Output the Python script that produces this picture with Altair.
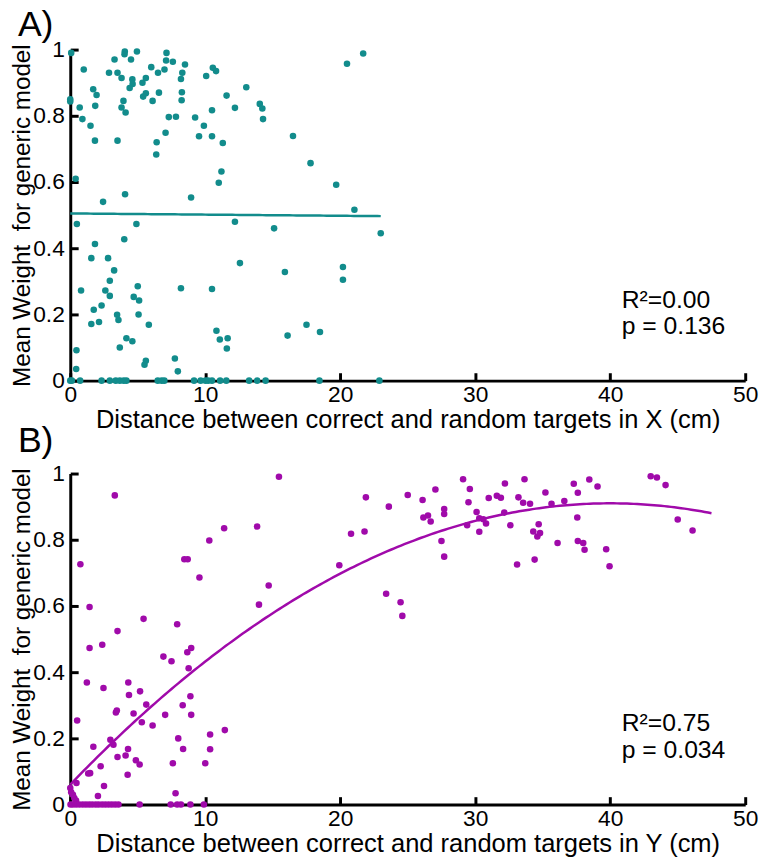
import altair as alt
import pandas as pd

FONT = "Liberation Sans"
COL_A = "#128c8c"
COL_B = "#a00aaa"

# ---------------- Panel A data ----------------
a_x = [0.07, 0.0, 0.0, 0.4, 1.0, 0.7, 0.9, 1.5, 1.7, 1.95, 1.85, 1.83, 2.43, 2.87, 3.28, 3.5,
       3.8, 3.94, 3.8, 4.1, 3.5, 4.06, 4.04, 4.02, 4.5, 4.6, 4.62, 4.4, 4.94, 5.35, 5.6, 5.4,
       5.6, 6.0, 6.1, 6.57, 6.5, 6.98, 7.13, 7.1, 7.6, 7.3, 7.83, 7.06, 6.4, 6.37, 8.5, 8.3,
       8.2, 8.27, 8.25, 8.95, 9.25, 9.54, 9.9, 10.07, 10.5, 10.5, 10.56, 10.8, 11.3, 11.2,
       11.0, 11.58, 12.2, 13.04, 14.04, 14.23, 14.28, 16.5, 17.8, 19.7, 20.5, 21.7, 21.05,
       0.49, 4.9, 12.2, 15.1, 23.0, 1.83, 4.0, 1.56, 2.8, 3.25, 2.93, 12.57, 15.9, 20.2, 20.2,
       0.8, 2.6, 2.93, 5.0, 4.7, 5.1, 5.06, 8.2, 10.5, 1.74, 2.32, 2.13, 1.56, 3.47, 3.57,
       5.82, 4.16, 4.6, 3.67, 0.46, 10.83, 11.08, 11.66, 11.6, 16.1, 17.5, 18.5, 5.6, 5.5,
       7.75, 7.97, 0.44,
       0.0, 0.12, 0.73, 2.32, 2.93, 3.37, 3.67, 3.96, 4.16, 6.48, 6.77, 6.97, 9.17, 9.66,
       10.02, 10.22, 10.5, 11.1, 11.56, 13.25, 13.84, 14.47, 18.46, 22.9]
a_y = [0.99, 0.85, 0.843, 0.61, 0.94, 0.825, 0.79, 0.77, 0.88, 0.863, 0.83, 0.725, 0.54, 0.93,
       0.97, 0.93, 0.914, 0.845, 0.825, 0.81, 0.725, 0.563, 0.994, 0.986, 0.97, 0.91, 0.896,
       0.884, 0.994, 0.9, 0.914, 0.858, 0.868, 0.947, 0.845, 0.87, 0.93, 0.94, 0.99, 0.967,
       0.963, 0.796, 0.797, 0.749, 0.72, 0.683, 0.955, 0.93, 0.911, 0.871, 0.847, 0.553,
       0.795, 0.738, 0.77, 0.92, 0.817, 0.738, 0.945, 0.935, 0.718, 0.632, 0.598, 0.861,
       0.824, 0.886, 0.836, 0.822, 0.79, 0.739, 0.657, 0.592, 0.957, 0.988, 0.516,
       0.473, 0.473, 0.48, 0.46, 0.445, 0.413, 0.427, 0.37, 0.37, 0.333, 0.302, 0.355, 0.328,
       0.343, 0.305, 0.272, 0.272, 0.256, 0.285, 0.253, 0.242, 0.2, 0.279, 0.277, 0.214,
       0.227, 0.177, 0.171, 0.199, 0.183, 0.169, 0.128, 0.119, 0.1, 0.092, 0.151, 0.124,
       0.128, 0.097, 0.136, 0.169, 0.147, 0.06, 0.048, 0.067, 0.028, 0.035,
       0, 0, 0, 0, 0, 0, 0, 0, 0, 0, 0, 0, 0, 0, 0, 0, 0, 0, 0, 0, 0, 0, 0, 0]

# ---------------- Panel B data ----------------
b_x = [0.75, 1.43, 1.43, 2.37, 3.5, 3.3, 5.43, 7.92, 8.45, 8.7, 9.57, 10.3, 11.4, 8.67, 8.96,
       6.9, 7.5, 13.84, 13.98, 14.7, 15.46, 19.93, 20.8, 21.8, 21.9, 23.4, 23.6,
       8.77, 1.23, 2.46, 4.3, 4.35, 5.17, 5.63, 3.38, 3.45, 4.69, 5.3, 6.1, 7.03, 8.33, 8.9,
       8.96, 0.51, 2.97, 3.2, 1.71, 3.5, 4.28, 4.1, 4.86, 5.14, 2.25, 1.47, 1.33, 4.25, 8.0,
       8.36, 10.36, 10.36, 11.45, 7.6, 10.0, 0.46, 2.5, 2.05, 7.8,
       0.0, 0.07, 0.2, 0.3, 0.43,
       0.02, 0.2, 0.43, 0.67, 0.92, 1.16, 1.4, 1.63, 1.88, 2.1, 2.36, 2.6, 2.84, 3.08, 3.33,
       3.57, 5.14, 7.44, 7.92, 8.2, 8.9, 9.9,
       25.0, 26.1, 26.16, 26.5, 26.7, 27.05, 27.7, 27.7, 27.5, 27.7, 29.1, 29.6, 29.5, 29.4,
       30.1, 30.3, 30.6, 30.8, 30.3, 31.0, 31.6, 31.9, 32.2, 32.15, 32.6, 33.1, 33.2, 33.55,
       34.06, 33.65, 34.3, 34.6, 34.8, 34.7, 34.4, 35.2, 35.65, 36.1, 36.6, 37.3, 37.6, 37.56,
       37.6, 38.0, 38.1, 38.45, 39.06, 39.7, 39.95, 43.0, 43.46, 44.1, 45.0, 46.1, 24.47, 24.6]
b_y = [0.726, 0.597, 0.473, 0.483, 0.524, 0.934, 0.561, 0.545, 0.741, 0.741, 0.686, 0.798,
       0.835, 0.46, 0.473, 0.447, 0.433, 0.84, 0.604, 0.662, 0.99, 0.723, 0.818, 0.825, 0.928,
       0.637, 0.9,
       0.412, 0.369, 0.352, 0.369, 0.331, 0.342, 0.302, 0.278, 0.284, 0.275, 0.249, 0.239,
       0.271, 0.3, 0.327, 0.271, 0.254, 0.196, 0.181, 0.175, 0.144, 0.168, 0.148, 0.134, 0.121,
       0.116, 0.095, 0.094, 0.09, 0.2, 0.168, 0.212, 0.167, 0.225, 0.125, 0.125, 0.065, 0.056,
       0.026, 0.034,
       0.05, 0.037, 0.03, 0.02, 0.012,
       0, 0, 0, 0, 0, 0, 0, 0, 0, 0, 0, 0, 0, 0, 0, 0, 0, 0, 0, 0, 0, 0,
       0.935, 0.92, 0.867, 0.873, 0.855, 0.952, 0.893, 0.878, 0.796, 0.749, 0.983, 0.953,
       0.913, 0.844, 0.884, 0.865, 0.862, 0.849, 0.824, 0.926, 0.933, 0.927, 0.97, 0.882,
       0.844, 0.725, 0.928, 0.912, 0.909, 0.983, 0.825, 0.81, 0.82, 0.847, 0.74, 0.943, 0.909,
       0.79, 0.917, 0.969, 0.942, 0.867, 0.796, 0.79, 0.77, 0.982, 0.961, 0.771, 0.72, 0.992,
       0.988, 0.965, 0.861, 0.828, 0.611, 0.57]

# Fitted model coefficients of the figure's fit lines (c0 + c1*x + c2*x^2)
fit_a = [0.505, -0.00035, 0.0]
fit_b = [0.0604, 0.04248, -0.000531]
fit_range_a = [0, 23.0]
fit_range_b = [0, 47.6]

x_ticks = [0, 10, 20, 30, 40, 50]
y_ticks = [0, 0.2, 0.4, 0.6, 0.8, 1]

y_title = "Mean Weight\u00a0 for generic model"
x_title_a = "Distance between correct and random targets in X (cm)"
x_title_b = "Distance between correct and random targets in Y (cm)"
annot_a = "R²=0.00\np = 0.136"
annot_b = "R²=0.75\np = 0.034"

df_a = pd.DataFrame({"x": a_x, "y": a_y})
df_b = pd.DataFrame({"x": b_x, "y": b_y})


def panel(df, color, label, label_dy, x_title, annot, fit, rng):
    base = alt.Chart(df)
    xenc = alt.X("x:Q", scale=alt.Scale(domain=[0, 50], nice=False),
                 axis=alt.Axis(values=x_ticks, title=x_title, labelPadding=11,
                               titlePadding=1, titleFontSize=25.8))
    yenc = alt.Y("y:Q", scale=alt.Scale(domain=[0, 1], nice=False),
                 axis=alt.Axis(values=y_ticks, format="~g", title=y_title,
                               labelPadding=14, titlePadding=-2, titleFontSize=24.5))
    pts = base.mark_circle(size=44, color=color, opacity=1).encode(x=xenc, y=yenc)
    line = alt.Chart(alt.sequence(rng[0], rng[1] + 0.01, 0.25, as_="x")).transform_calculate(
        y=f"{fit[0]} + {fit[1]} * datum.x + {fit[2]} * datum.x * datum.x"
    ).mark_line(color=color, strokeWidth=2.5).encode(x="x:Q", y="y:Q")
    txt = alt.Chart(pd.DataFrame({"t": [annot]})).mark_text(
        align="left", baseline="alphabetic", fontSize=25, font=FONT,
        lineBreak="\n", lineHeight=27, color="black").encode(
        x=alt.value(558), y=alt.value(261), text="t:N")
    lab = alt.Chart(pd.DataFrame({"t": [label]})).mark_text(
        align="left", baseline="alphabetic", fontSize=36, font=FONT,
        color="black").encode(x=alt.value(-53), y=alt.value(label_dy), text="t:N")
    return alt.layer(pts, line, txt, lab).properties(width=683, height=335)


pa = panel(df_a, COL_A, "A)", -14, x_title_a, annot_a, fit_a, fit_range_a)
pb = panel(df_b, COL_B, "B)", -22, x_title_b, annot_b, fit_b, fit_range_b)

chart = alt.vconcat(pa, pb, spacing=-9).properties(
    padding={"left": 2, "top": -6, "right": 5, "bottom": 0}
).configure_axis(
    grid=False, domainColor="black", domainWidth=3, tickColor="black", tickWidth=3,
    tickSize={"expr": "-8"}, labelFont=FONT, titleFont=FONT, labelFontSize=23,
    labelColor="black", titleColor="black", titleFontWeight="normal",
    labelFlush=False
).configure_view(stroke=None)

chart.save("out.html", embed_options={"renderer": "svg", "actions": False})
